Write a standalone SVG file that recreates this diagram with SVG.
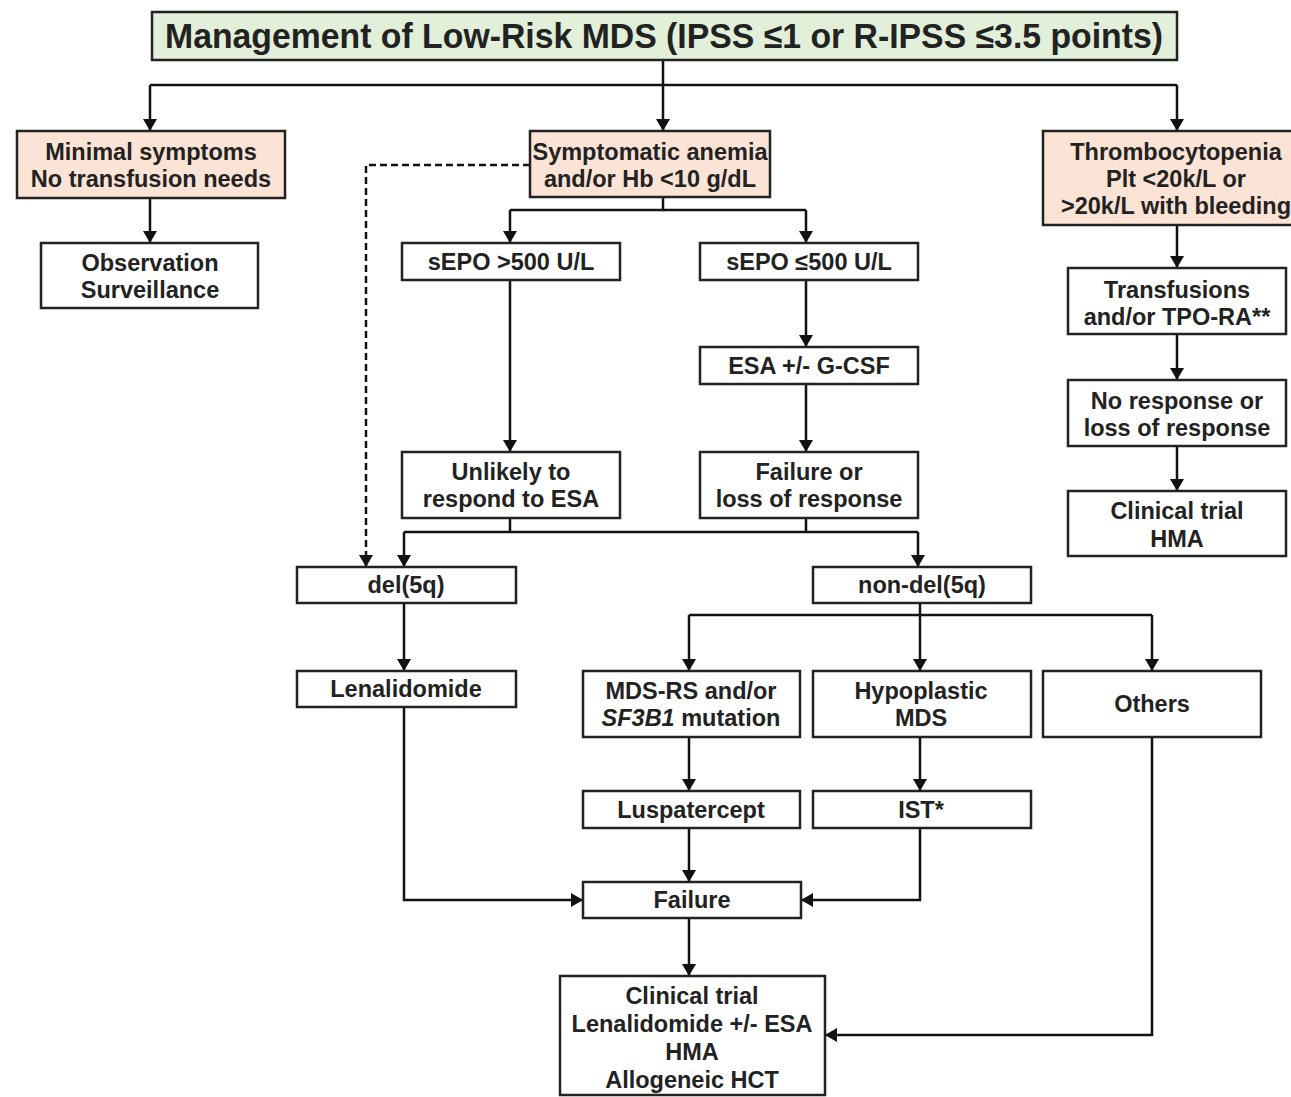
<svg xmlns="http://www.w3.org/2000/svg" width="1291" height="1097" viewBox="0 0 1291 1097">
<defs>
<style>
.box{fill:#fff;stroke:#222;stroke-width:2.5}
.pk{fill:#fbe4d5}
.gr{fill:#e2efd9}
text{font-family:"Liberation Sans",Arial,sans-serif;font-weight:bold;font-size:23.5px;fill:#222;text-anchor:middle}
.ttl{font-size:35px}
.ln{fill:none;stroke:#111;stroke-width:2.5;marker-end:url(#ah)}
.pl{fill:none;stroke:#111;stroke-width:2.5}
.dash{stroke-dasharray:7 4}
</style>
<marker id="ah" viewBox="0 0 12 14" refX="12" refY="7" markerWidth="12" markerHeight="14" markerUnits="userSpaceOnUse" orient="auto">
<path d="M0,0 L12,7 L0,14 Z" fill="#111"/>
</marker>
</defs>
<rect width="1291" height="1097" fill="#fff"/>
<g id="connectors">
<path class="pl" d="M663,60 V85"/>
<path class="pl" d="M150,85 H1177"/>
<path class="ln" d="M150,85 V131"/>
<path class="ln" d="M663,85 V131"/>
<path class="ln" d="M1177,85 V131"/>
<path class="ln" d="M150,198 V243"/>
<path class="ln" d="M1177,225 V268"/>
<path class="ln" d="M1177,334 V380"/>
<path class="ln" d="M1177,446 V491"/>
<path class="pl" d="M663,197 V210 H510"/>
<path class="pl" d="M663,210 H806"/>
<path class="ln" d="M510,210 V243"/>
<path class="ln" d="M806,210 V243"/>
<path class="ln" d="M510,280 V452"/>
<path class="ln" d="M806,280 V347"/>
<path class="ln" d="M806,384 V452"/>
<path class="ln dash" d="M530,165 H366 V567"/>
<path class="pl" d="M510,518 V532"/>
<path class="pl" d="M806,518 V532"/>
<path class="pl" d="M404,532 H918"/>
<path class="ln" d="M404,532 V567"/>
<path class="ln" d="M918,532 V567"/>
<path class="ln" d="M404,603 V671"/>
<path class="pl" d="M920,603 V615"/>
<path class="pl" d="M689,615 H1152"/>
<path class="ln" d="M689,615 V671"/>
<path class="ln" d="M920,615 V671"/>
<path class="ln" d="M1152,615 V671"/>
<path class="ln" d="M689,737 V791"/>
<path class="ln" d="M920,737 V791"/>
<path class="ln" d="M404,707 V900 H583"/>
<path class="ln" d="M689,828 V882"/>
<path class="ln" d="M920,828 V900 H801"/>
<path class="ln" d="M689,918 V976"/>
<path class="ln" d="M1152,737 V1035 H825"/>
</g>
<g id="title">
<rect class="box gr" x="152" y="12" width="1025" height="48"/>
<text class="ttl" x="664" y="48" textLength="998" lengthAdjust="spacingAndGlyphs">Management of Low-Risk MDS (IPSS ≤1 or R-IPSS ≤3.5 points)</text>
</g>
<g id="minimal">
<rect class="box pk" x="17" y="131" width="268" height="67"/>
<text x="151" y="160">Minimal symptoms</text>
<text x="151" y="187">No transfusion needs</text>
</g>
<g id="observation">
<rect class="box" x="41" y="243" width="217" height="65"/>
<text x="150" y="271">Observation</text>
<text x="150" y="298">Surveillance</text>
</g>
<g id="anemia">
<rect class="box pk" x="530" y="131" width="240" height="66"/>
<text x="650" y="160">Symptomatic anemia</text>
<text x="650" y="187">and/or Hb &lt;10 g/dL</text>
</g>
<g id="thrombo">
<rect class="box pk" x="1043" y="131" width="260" height="94"/>
<text x="1176" y="160">Thrombocytopenia</text>
<text x="1176" y="187">Plt &lt;20k/L or</text>
<text x="1176" y="214">&gt;20k/L with bleeding</text>
</g>
<g id="transfusions">
<rect class="box" x="1068" y="268" width="218" height="66"/>
<text x="1177" y="298">Transfusions</text>
<text x="1177" y="325">and/or TPO-RA**</text>
</g>
<g id="noresponse">
<rect class="box" x="1068" y="380" width="218" height="66"/>
<text x="1177" y="409">No response or</text>
<text x="1177" y="436">loss of response</text>
</g>
<g id="trialhma">
<rect class="box" x="1068" y="491" width="218" height="65"/>
<text x="1177" y="519">Clinical trial</text>
<text x="1177" y="547">HMA</text>
</g>
<g id="sepo-high">
<rect class="box" x="402" y="243" width="218" height="37"/>
<text x="511" y="270">sEPO &gt;500 U/L</text>
</g>
<g id="sepo-low">
<rect class="box" x="700" y="243" width="218" height="37"/>
<text x="809" y="270">sEPO ≤500 U/L</text>
</g>
<g id="esa">
<rect class="box" x="700" y="347" width="218" height="37"/>
<text x="809" y="374">ESA +/- G-CSF</text>
</g>
<g id="unlikely">
<rect class="box" x="402" y="452" width="218" height="66"/>
<text x="511" y="480">Unlikely to</text>
<text x="511" y="507">respond to ESA</text>
</g>
<g id="failure-loss">
<rect class="box" x="700" y="452" width="218" height="66"/>
<text x="809" y="480">Failure or</text>
<text x="809" y="507">loss of response</text>
</g>
<g id="del5q">
<rect class="box" x="297" y="567" width="219" height="36"/>
<text x="406" y="593">del(5q)</text>
</g>
<g id="nondel5q">
<rect class="box" x="813" y="567" width="218" height="36"/>
<text x="922" y="593">non-del(5q)</text>
</g>
<g id="lenalidomide">
<rect class="box" x="297" y="671" width="219" height="36"/>
<text x="406" y="697">Lenalidomide</text>
</g>
<g id="mdsrs">
<rect class="box" x="583" y="671" width="217" height="66"/>
<text x="691" y="699">MDS-RS and/or</text>
<text x="691" y="726"><tspan font-style="italic">SF3B1</tspan> mutation</text>
</g>
<g id="hypoplastic">
<rect class="box" x="813" y="671" width="218" height="66"/>
<text x="921" y="699">Hypoplastic</text>
<text x="921" y="726">MDS</text>
</g>
<g id="others">
<rect class="box" x="1043" y="671" width="218" height="66"/>
<text x="1152" y="712">Others</text>
</g>
<g id="luspatercept">
<rect class="box" x="583" y="791" width="217" height="37"/>
<text x="691" y="818">Luspatercept</text>
</g>
<g id="ist">
<rect class="box" x="813" y="791" width="218" height="37"/>
<text x="921" y="818">IST*</text>
</g>
<g id="failure">
<rect class="box" x="583" y="882" width="218" height="36"/>
<text x="692" y="908">Failure</text>
</g>
<g id="clinical">
<rect class="box" x="560" y="976" width="265" height="119"/>
<text x="692" y="1004">Clinical trial</text>
<text x="692" y="1032">Lenalidomide +/- ESA</text>
<text x="692" y="1060">HMA</text>
<text x="692" y="1088">Allogeneic HCT</text>
</g>
</svg>
